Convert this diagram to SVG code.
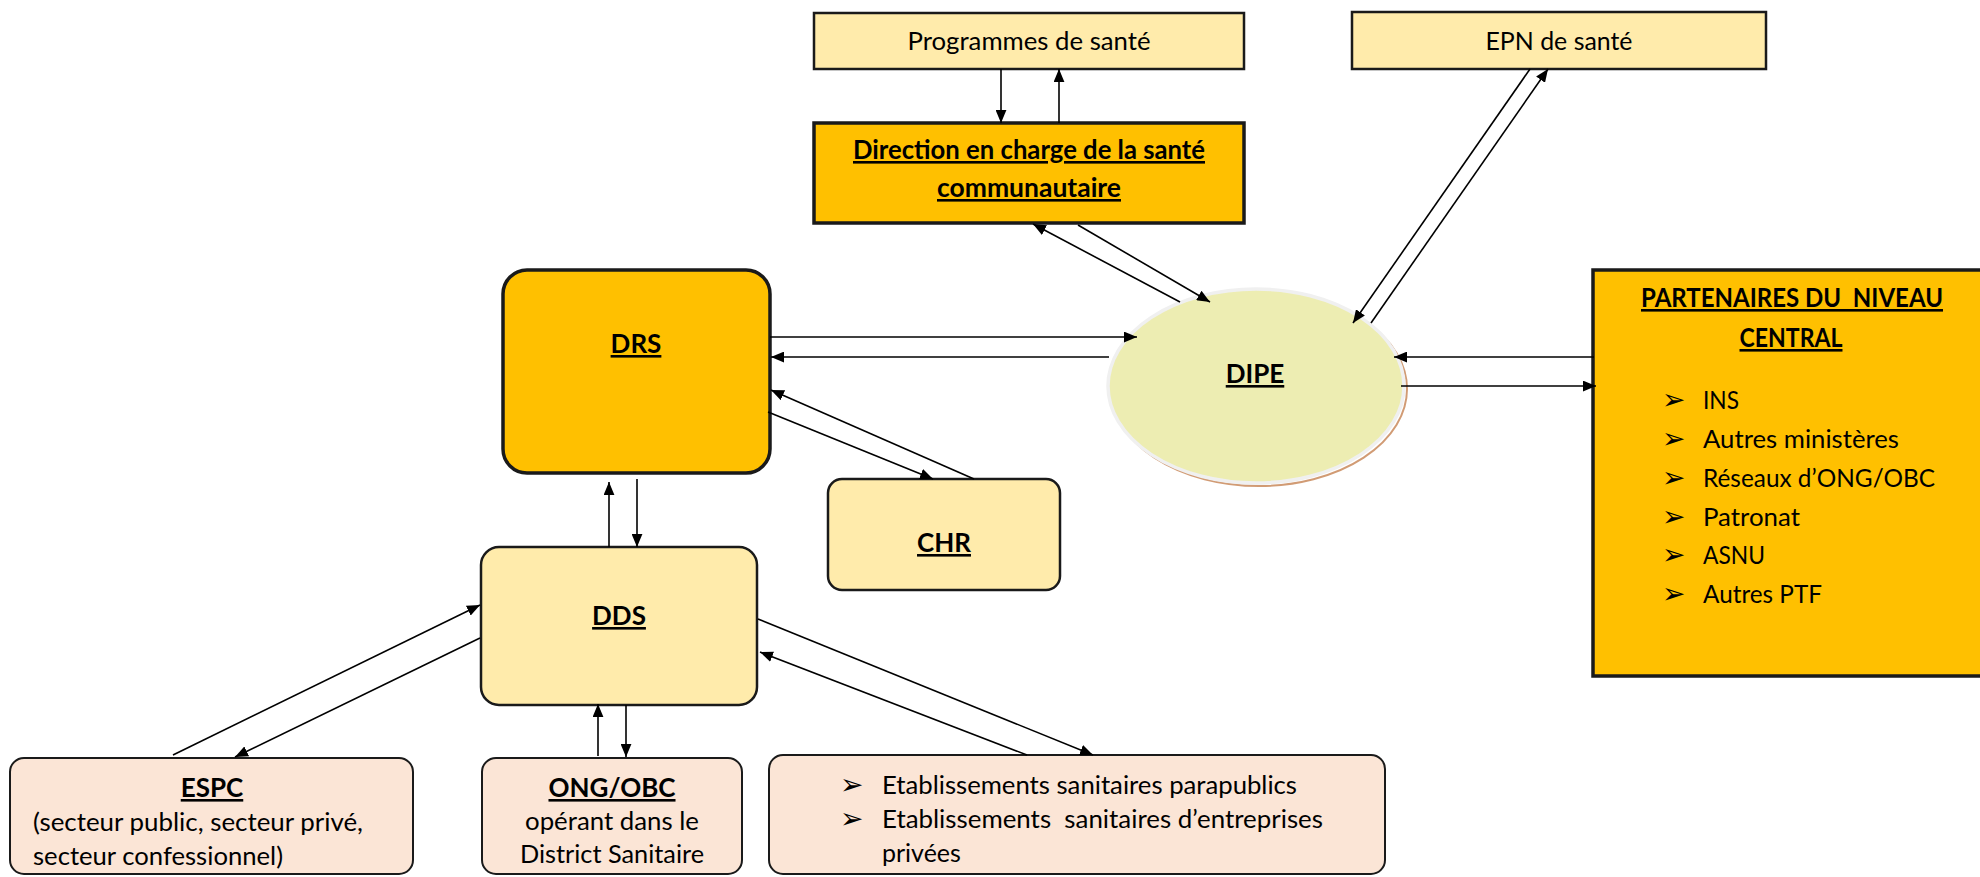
<svg xmlns="http://www.w3.org/2000/svg" width="1980" height="877" viewBox="0 0 1980 877">
<style>
.t{font-family:Lato,"Liberation Sans",sans-serif;font-size:25px;fill:#000}
.b{font-weight:bold;text-decoration:underline;font-size:26px}
.c{text-anchor:middle}
.bul{font-family:"DejaVu Sans",sans-serif;font-size:28px;fill:#000}
.pale{fill:#FFEBAB;stroke:#1a1a1a;stroke-width:2.5}
.org{fill:#FFC000;stroke:#1a1a1a;stroke-width:3.5}
.peach{fill:#FBE5D6;stroke:#1a1a1a;stroke-width:2}
.con line{stroke:#000;stroke-width:1.6;marker-end:url(#ah)}
</style>
<defs>
<marker id="ah" viewBox="0 0 12 10" refX="12" refY="5" markerWidth="13" markerHeight="11" orient="auto" markerUnits="userSpaceOnUse"><path d="M0,0 L12,5 L0,10 z" fill="#000"/></marker>
</defs>
<rect width="1980" height="877" fill="#fff"/>

<g id="programmes">
<rect class="pale" x="814" y="13" width="430" height="56"/>
<text class="t c" x="1029" y="50" textLength="243" lengthAdjust="spacingAndGlyphs">Programmes de santé</text>
</g>
<g id="epn">
<rect class="pale" x="1352" y="12" width="414" height="57"/>
<text class="t c" x="1559" y="50" textLength="147" lengthAdjust="spacingAndGlyphs">EPN de santé</text>
</g>
<g id="direction">
<rect class="org" x="814" y="123" width="430" height="100"/>
<text class="t b c" x="1029" y="159" textLength="352" lengthAdjust="spacingAndGlyphs">Direction en charge de la santé</text>
<text class="t b c" x="1029" y="197" textLength="184" lengthAdjust="spacingAndGlyphs">communautaire</text>
</g>
<g id="drs">
<rect class="org" x="503" y="270" width="267" height="203" rx="24"/>
<text class="t b c" x="636" y="353">DRS</text>
</g>
<g id="chr">
<rect class="pale" x="828" y="479" width="232" height="111" rx="14"/>
<text class="t b c" x="944" y="552">CHR</text>
</g>
<g id="dipe">
<ellipse cx="1259" cy="389" rx="148" ry="97" fill="none" stroke="#C98A5C" stroke-width="2" opacity="0.85"/>
<ellipse cx="1256" cy="386" rx="148" ry="97" fill="#EDEDB2" stroke="#F0F0F0" stroke-width="3.5"/>
<text class="t b c" x="1255" y="383">DIPE</text>
</g>
<g id="partenaires">
<rect class="org" x="1593" y="270" width="400" height="406"/>
<text class="t b c" x="1792" y="307" textLength="302" lengthAdjust="spacingAndGlyphs" xml:space="preserve">PARTENAIRES DU  NIVEAU</text>
<text class="t b c" x="1791" y="347" textLength="103" lengthAdjust="spacingAndGlyphs">CENTRAL</text>
<text class="bul" x="1662" y="409">➢</text>
<text class="bul" x="1662" y="448">➢</text>
<text class="bul" x="1662" y="487">➢</text>
<text class="bul" x="1662" y="526">➢</text>
<text class="bul" x="1662" y="564">➢</text>
<text class="bul" x="1662" y="603">➢</text>
<text class="t" x="1703" y="409" textLength="36" lengthAdjust="spacingAndGlyphs">INS</text>
<text class="t" x="1703" y="448" textLength="196" lengthAdjust="spacingAndGlyphs">Autres ministères</text>
<text class="t" x="1703" y="487" textLength="232" lengthAdjust="spacingAndGlyphs">Réseaux d’ONG/OBC</text>
<text class="t" x="1703" y="526" textLength="97" lengthAdjust="spacingAndGlyphs">Patronat</text>
<text class="t" x="1703" y="564" textLength="62" lengthAdjust="spacingAndGlyphs">ASNU</text>
<text class="t" x="1703" y="603" textLength="119" lengthAdjust="spacingAndGlyphs">Autres PTF</text>
</g>
<g id="dds">
<rect class="pale" x="481" y="547" width="276" height="158" rx="18"/>
<text class="t b c" x="619" y="625">DDS</text>
</g>
<g id="espc">
<rect class="peach" x="10" y="758" width="403" height="116" rx="14"/>
<text class="t b c" x="212" y="797">ESPC</text>
<text class="t" x="33" y="831" textLength="330" lengthAdjust="spacingAndGlyphs">(secteur public, secteur privé,</text>
<text class="t" x="33" y="865" textLength="250" lengthAdjust="spacingAndGlyphs">secteur confessionnel)</text>
</g>
<g id="ong">
<rect class="peach" x="482" y="758" width="260" height="116" rx="14"/>
<text class="t b c" x="612" y="797">ONG/OBC</text>
<text class="t c" x="612" y="830" textLength="174" lengthAdjust="spacingAndGlyphs">opérant dans le</text>
<text class="t c" x="612" y="863" textLength="184" lengthAdjust="spacingAndGlyphs">District Sanitaire</text>
</g>
<g id="etablissements">
<rect class="peach" x="769" y="755" width="616" height="119" rx="14"/>
<text class="bul" x="840" y="794">➢</text>
<text class="bul" x="840" y="828">➢</text>
<text class="t" x="882" y="794" textLength="415" lengthAdjust="spacingAndGlyphs">Etablissements sanitaires parapublics</text>
<text class="t" x="882" y="828" textLength="441" lengthAdjust="spacingAndGlyphs" xml:space="preserve">Etablissements  sanitaires d’entreprises</text>
<text class="t" x="882" y="862">privées</text>
</g>

<g id="connectors" class="con">
<line x1="1001" y1="69" x2="1001" y2="123"/>
<line x1="1059" y1="123" x2="1059" y2="69"/>
<line x1="1078" y1="225" x2="1210" y2="302"/>
<line x1="1180" y1="302" x2="1033" y2="224"/>
<line x1="1530" y1="69" x2="1353" y2="323"/>
<line x1="1371" y1="323" x2="1548" y2="69"/>
<line x1="770" y1="337" x2="1137" y2="337"/>
<line x1="1109" y1="357" x2="771" y2="357"/>
<line x1="1594" y1="357" x2="1394" y2="357"/>
<line x1="1401" y1="386" x2="1596" y2="386"/>
<line x1="974" y1="479" x2="771" y2="390"/>
<line x1="768" y1="412" x2="933" y2="479"/>
<line x1="609" y1="547" x2="609" y2="482"/>
<line x1="637" y1="479" x2="637" y2="547"/>
<line x1="173" y1="755" x2="480" y2="605"/>
<line x1="480" y1="638" x2="235" y2="757"/>
<line x1="758" y1="619" x2="1093" y2="755"/>
<line x1="1027" y1="755" x2="760" y2="652"/>
<line x1="598" y1="756" x2="598" y2="704"/>
<line x1="626" y1="705" x2="626" y2="757"/>
</g>
</svg>
